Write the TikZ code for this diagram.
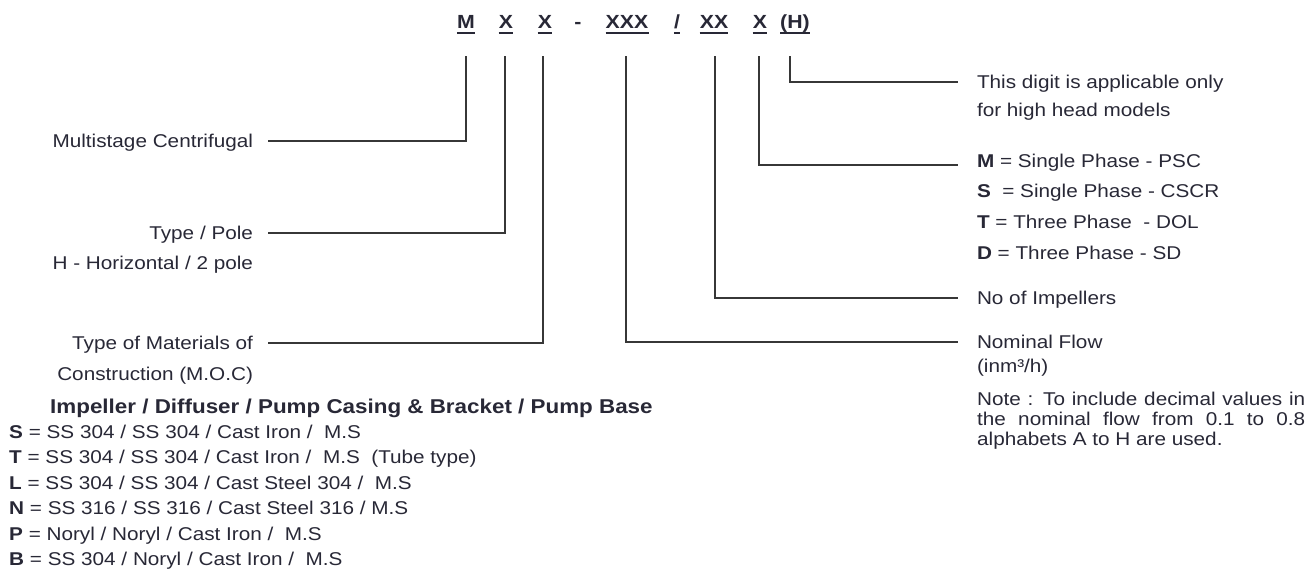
\documentclass[tikz,border=0pt]{standalone}
\usepackage{fontspec}
\setmainfont{Liberation Sans}[FakeStretch=1.12]
\definecolor{ink}{RGB}{40,40,54}
\definecolor{wire}{RGB}{55,55,55}
\begin{document}
\begin{tikzpicture}[x=1pt,y=-1pt,
  every node/.style={text=ink, font=\fontsize{18.5}{30}\selectfont},
  code/.style={font=\fontsize{19}{20}\selectfont\bfseries, inner sep=0pt, anchor=base},
  uline/.style={draw=ink, line width=2pt},
  lead/.style={draw=wire, line width=1.5pt},
  lefttag/.style={anchor=east, inner sep=0pt, outer xsep=15pt, text height=13pt, text depth=0pt},
  righttag/.style={anchor=west, inner sep=0pt, outer xsep=19pt, text height=13pt, text depth=0pt},
  row/.style={anchor=west, inner sep=0pt, text height=13pt, text depth=0pt},
  note/.style={anchor=north west, inner sep=0pt, text width=328pt, align=justify,
    font=\fontsize{18.5}{20}\selectfont}
]
\useasboundingbox (0,0) rectangle (1305,571);

% model code
\node[code] (cM)     at (466,28) {M};
\node[code] (cXa)    at (506,28) {X};
\node[code] (cXb)    at (545,28) {X};
\node[code] (cDash)  at (578,28) {-};
\node[code] (cXXX)   at (627,28) {XXX};
\node[code] (cSlash) at (677,28) {/};
\node[code] (cXX)    at (714,28) {XX};
\node[code] (cXm)    at (760,28) {X};
\node[code] (cH)     at (795,28) {(H)};
\foreach \n in {cM,cXa,cXb,cXXX,cSlash,cXX,cXm,cH}
  \draw[uline] ([yshift=-5pt]\n.base west) -- ([yshift=-5pt]\n.base east);

% tops of the leader lines
\coordinate (tM)   at ([yshift=-28pt]cM.base);
\coordinate (tXa)  at ([xshift=-1pt,yshift=-28pt]cXa.base);
\coordinate (tXb)  at ([xshift=-2pt,yshift=-28pt]cXb.base);
\coordinate (tXXX) at ([xshift=-1pt,yshift=-28pt]cXXX.base);
\coordinate (tXX)  at ([xshift=1pt,yshift=-28pt]cXX.base);
\coordinate (tXm)  at ([xshift=-1pt,yshift=-28pt]cXm.base);
\coordinate (tH)   at ([xshift=-5pt,yshift=-28pt]cH.base);

% left-hand labels
\node[lefttag] (lMulti) at (268,141) {Multistage Centrifugal};
\node[lefttag] (lType)  at (268,233) {Type / Pole};
\node[lefttag] (lTypeB) at (268,263) {H - Horizontal / 2 pole};
\node[lefttag] (lMoc)   at (268,343) {Type of Materials of};
\node[lefttag] (lMocB)  at (268,374) {Construction (M.O.C)};

% right-hand labels
\node[righttag] (rDigit)  at (958,82)  {This digit is applicable only};
\node[righttag] (rDigitB) at (958,110) {for high head models};
\node[righttag, text depth=8pt] (rM) at (958,165) {\textbf{M} = Single Phase - PSC};
\node[righttag] (rS) at (958,191) {\textbf{S}\ \ = Single Phase - CSCR};
\node[righttag] (rT) at (958,222) {\textbf{T} = Three Phase\ \ - DOL};
\node[righttag] (rD) at (958,253) {\textbf{D} = Three Phase - SD};
\node[righttag] (rImp)  at (958,298) {No of Impellers};
\node[righttag] (rFlow) at (958,342) {Nominal Flow};
\node[righttag] (rUnit) at (958,366) {(inm³/h)};
\node[note] (rNote) at (977,392) {Note : To include decimal values in\linebreak
  the nominal flow from 0.1 to 0.8\linebreak alphabets A to H are used.};

% material table
\node[row, font=\fontsize{20}{20}\selectfont\bfseries] (hMoc) at (50,407)
  {Impeller / Diffuser / Pump Casing \& Bracket / Pump Base};
\node[row] (mS) at (9,432) {\textbf{S} = SS 304 / SS 304 / Cast Iron /\ \ M.S};
\node[row] (mT) at (9,457) {\textbf{T} = SS 304 / SS 304 / Cast Iron /\ \ M.S\ \ (Tube type)};
\node[row] (mL) at (9,483) {\textbf{L} = SS 304 / SS 304 / Cast Steel 304 /\ \ M.S};
\node[row] (mN) at (9,508) {\textbf{N} = SS 316 / SS 316 / Cast Steel 316 / M.S};
\node[row] (mP) at (9,534) {\textbf{P} = Noryl / Noryl / Cast Iron /\ \ M.S};
\node[row] (mB) at (9,559) {\textbf{B} = SS 304 / Noryl / Cast Iron /\ \ M.S};

% leader lines
\draw[lead] (tM)   |- (lMulti.east);
\draw[lead] (tXa)  |- (lType.east);
\draw[lead] (tXb)  |- (lMoc.east);
\draw[lead] (tXXX) |- (rFlow.west);
\draw[lead] (tXX)  |- (rImp.west);
\draw[lead] (tXm)  |- (rM.west);
\draw[lead] (tH)   |- (rDigit.west);
\end{tikzpicture}
\end{document}
